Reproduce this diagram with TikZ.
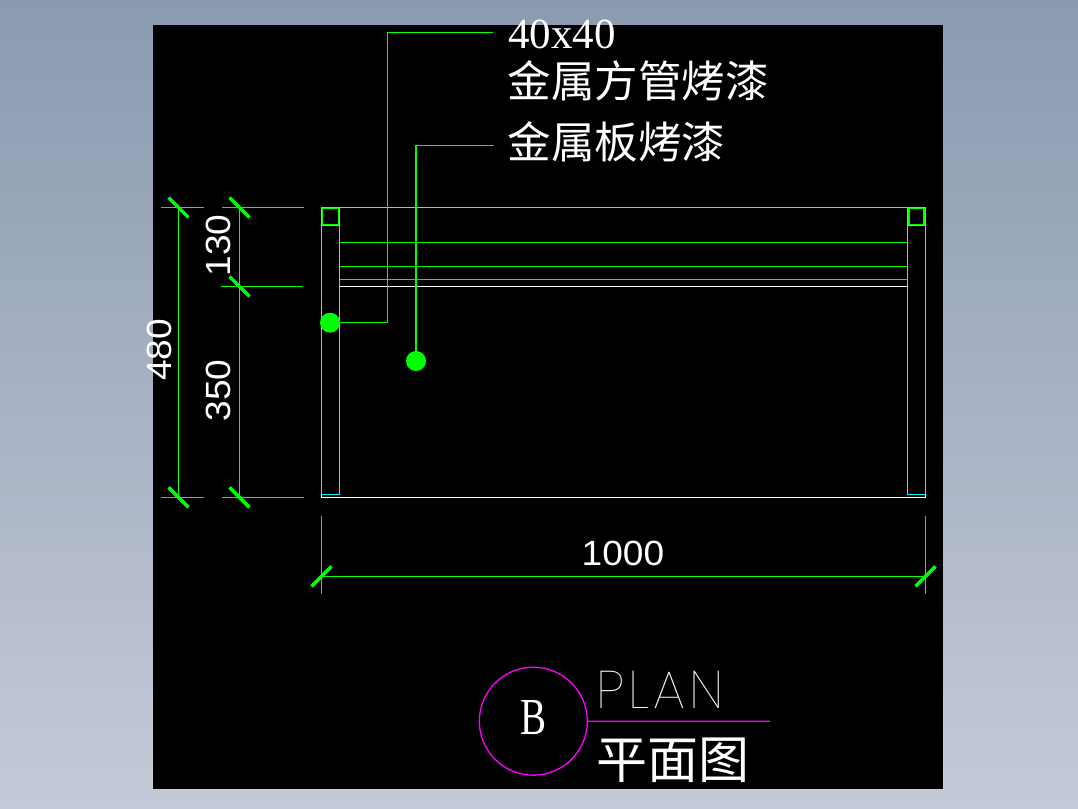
\documentclass[tikz,border=0pt]{standalone}
\usepackage{fontspec}
\setmainfont{Liberation Serif}
\newfontfamily\cjk{Noto Sans CJK SC}
\newfontfamily\dimfont[FakeStretch=1.06]{Liberation Sans}
\newfontfamily\thinfont[UprightFont=* Thin, LetterSpace=8]{Poppins}
\definecolor{cadgreen}{RGB}{0,255,0}
\definecolor{cadcyan}{RGB}{0,255,255}
\definecolor{cadpink}{RGB}{255,0,255}
\definecolor{skytop}{RGB}{138,154,176}
\definecolor{skybottom}{RGB}{197,202,216}
\tikzset{
	dimline/.style={cadgreen, line width=1.3pt},
	dimtick/.style={cadgreen, line width=3.5pt},
	post/.style={cadcyan, line width=1.3pt},
	dimtext/.style={white, inner sep=0pt, font=\dimfont\fontsize{35}{35}\selectfont},
	notetext/.style={white, inner sep=0pt, anchor=west, font=\cjk\fontsize{43.5}{43.5}\selectfont},
	leaderdot/.style={circle, fill=cadgreen, inner sep=0pt, minimum size=20pt}
}
\begin{document}
\begin{tikzpicture}[x=1pt, y=-1pt]
	\useasboundingbox(0, 0) rectangle (1078, 808);
	\shade[top color=skytop, bottom color=skybottom](0, 0) rectangle (1078, 808);
	\fill[black](153, 25) rectangle (943, 789);

	% frame
	\draw[post](321.5, 494.3)--(321.5, 207.5)--(925.5, 207.5)--(925.5, 494.3);
	\draw[post](339.5, 207.5)--(339.5, 494.3)--(321.5, 494.3);
	\draw[post](907.5, 207.5)--(907.5, 494.3)--(925.5, 494.3);
	\draw[post](321.5, 225)--(339.5, 225);
	\draw[post](907.5, 225)--(925.5, 225);
	\draw[dimline](322.5, 208.5) rectangle (338.5, 224.5);
	\draw[cadgreen, line width=1.7pt](908.7, 208.5) rectangle (924.3, 224.5);
	\draw[dimline](339.5, 242.3)--(907.5, 242.3);
	\draw[dimline](339.5, 266.3)--(907.5, 266.3);
	\draw[dimline](339.5, 279.3)--(907.5, 279.3);
	\draw[white, line width=1.3pt](339.5, 286.3)--(907.5, 286.3);
	\draw[white, line width=1.3pt](321.5, 494.3)--(321.5, 497.3)--(925.5, 497.3)--(925.5, 494.3);

	% dimensions on the left
	\draw[dimline](161, 207.5)--(204, 207.5);
	\draw[dimline](161, 497.3)--(204, 497.3);
	\draw[dimline](222, 207.5)--(304, 207.5);
	\draw[dimline](221, 286.5)--(303, 286.5);
	\draw[dimline](222, 497.3)--(304, 497.3);
	\draw[dimline](178.5, 207.5)--(178.5, 497.3);
	\draw[dimline](239.5, 207.5)--(239.5, 497.3);
	\foreach \px/\py in {178.5/207.5, 178.5/497.3, 239.5/207.5, 239.5/286.5, 239.5/497.3}
		\draw[dimtick](\px-10, \py-10)--(\px+10, \py+10);
	\node[dimtext, rotate=90] (dimAll) at (159, 350) {480};
	\node[dimtext, rotate=90] (dimTop) at (218, 245.5) {130};
	\node[dimtext, rotate=90] (dimRest) at (218, 390.5) {350};

	% dimension below
	\draw[dimline](321.5, 516)--(321.5, 594);
	\draw[dimline](925.5, 516)--(925.5, 594);
	\draw[dimline](321.5, 576.3)--(925.5, 576.3);
	\foreach \px in {321.5, 925.5}
		\draw[dimtick](\px-10, 586.3)--(\px+10, 566.3);
	\node[dimtext] (dimWide) at (623, 553) {1000};

	% leaders
	\node[leaderdot] (tubeDot) at (330, 322.7) {};
	\node[leaderdot] (plateDot) at (416, 361) {};
	\coordinate (tubeEnd) at (493, 32.3);
	\coordinate (plateEnd) at (493.5, 145.3);
	\draw[dimline](tubeDot.center)-|(387.3, 32.3)--(tubeEnd);
	\draw[dimline](plateDot.center)|-(plateEnd);
	\node[notetext, font=\fontsize{43}{43}\selectfont] (tubeSize) at (508, 34) {40x40};
	\node[notetext] (tubeNote) at (507.5, 81) {金属方管烤漆};
	\node[notetext] (plateNote) at (507.5, 141.5) {金属板烤漆};

	% title
	\node[circle, draw=cadpink, line width=1.3pt, inner sep=0pt, minimum size=108pt] (mark) at (533.3, 721.2) {};
	\node[white, inner sep=0pt, xscale=0.75, font=\fontsize{52}{52}\selectfont] (markB) at (533, 717.5) {B};
	\coordinate (titleEnd) at (770, 721.3);
	\draw[cadpink, line width=1.3pt](mark.east)--(titleEnd);
	\node[white, inner sep=0pt, anchor=west, font=\thinfont\fontsize{53}{53}\selectfont] (titleEn) at (596, 689.5) {PLAN};
	\node[white, inner sep=0pt, anchor=west, font=\cjk\fontsize{51}{51}\selectfont] (titleCn) at (596, 760.5) {平面图};
\end{tikzpicture}
\end{document}
